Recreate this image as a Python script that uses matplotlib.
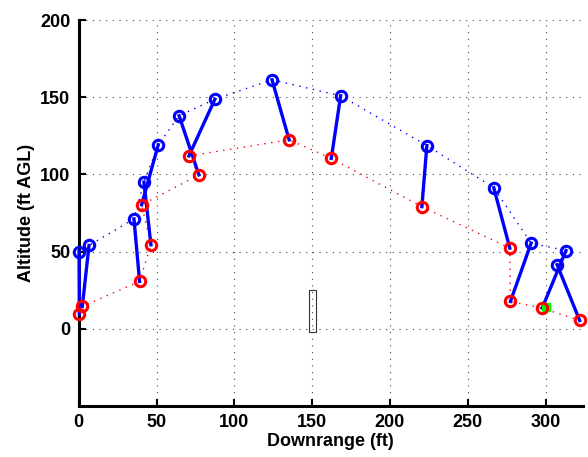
import matplotlib.pyplot as plt
import matplotlib.patches as patches

# upper (blue) and lower (red) marker positions, paired by index
blue_x = [0.2, 6.6, 35.5, 41.9, 51.1, 64.5, 87.5, 124.2, 168.3, 223.7, 266.7, 290.7, 313.1, 307.4]
blue_y = [49.9, 54.0, 71.2, 95.0, 119.2, 138.0, 148.7, 161.3, 150.9, 118.7, 91.4, 55.5, 50.7, 41.5]
red_x = [0.4, 2.3, 39.1, 46.4, 40.4, 77.2, 70.8, 135.2, 162.3, 220.5, 277.0, 277.4, 297.8, 321.9]
red_y = [9.5, 14.5, 30.7, 54.4, 80.3, 99.7, 112.0, 122.4, 110.4, 79.1, 52.3, 17.7, 13.4, 5.4]

target_x = [300.3]
target_y = [14.4]

# small box near mid range
box_x, box_y, box_w, box_h = 148.0, -2.0, 4.5, 27.0

x_ticks = [0, 50, 100, 150, 200, 250, 300]
y_ticks = [0, 50, 100, 150, 200]

plt.rcParams['font.family'] = ['Liberation Sans', 'DejaVu Sans']
plt.rcParams['font.weight'] = 'bold'

fig = plt.figure(figsize=(5.88, 4.57), dpi=100)
ax = fig.add_axes([0.1339, 0.1116, 0.8575, 0.8446])

# dotted paths
ax.plot(blue_x, blue_y, color='blue', lw=1.0, linestyle=(0, (1, 4)), zorder=2)
ax.plot(red_x, red_y, color='red', lw=1.0, linestyle=(0, (1, 4)), zorder=2)

# solid connectors
for bx, by, rx, ry in zip(blue_x, blue_y, red_x, red_y):
    ax.plot([bx, rx], [by, ry], color='blue', lw=2.4, zorder=3, clip_on=False)

ax.plot(target_x, target_y, 's', color=(0, 1, 0), markersize=6, zorder=3, clip_on=False)

ax.plot(red_x, red_y, 'o', mfc='none', mec='red', markersize=7.5, mew=2.2, zorder=4, clip_on=False)
ax.plot(blue_x, blue_y, 'o', mfc='none', mec='blue', markersize=7.5, mew=2.2, zorder=5, clip_on=False)

ax.add_patch(patches.Rectangle((box_x, box_y), box_w, box_h, fill=False,
                               edgecolor='#333333', lw=0.8, zorder=3))

ax.set_xlim(0, 324)
ax.set_ylim(-50, 200)
ax.set_xticks(x_ticks)
ax.set_yticks(y_ticks)
ax.grid(True, color='#444444', linestyle=(0, (1, 5)), lw=0.8)
ax.set_axisbelow(True)

for s in ['top', 'right']:
    ax.spines[s].set_visible(False)
for s in ['left', 'bottom']:
    ax.spines[s].set_linewidth(2.2)
ax.tick_params(direction='in', length=5, width=1.5, labelsize=13, pad=6)

ax.set_xlabel('Downrange (ft)', fontsize=13, fontweight='bold', labelpad=1)
ax.set_ylabel('Altitude (ft AGL)', fontsize=13, fontweight='bold', labelpad=4)

fig.savefig('out.png', dpi=100)
